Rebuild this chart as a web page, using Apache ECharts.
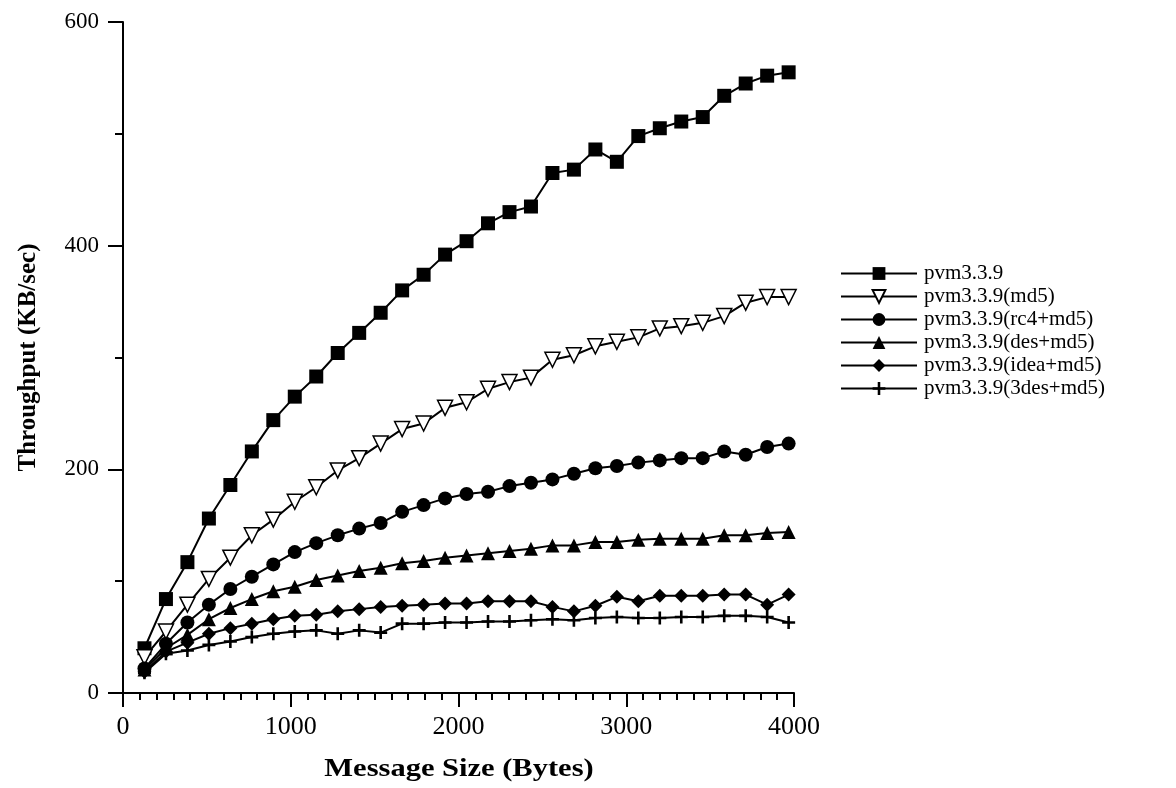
<!DOCTYPE html>
<html>
<head>
<meta charset="utf-8">
<script src="https://cdn.jsdelivr.net/npm/echarts@6/dist/echarts.min.js"></script>
<style>
  html, body { margin: 0; padding: 0; background: #fff; }
  #chart { width: 1176px; height: 788px; }
</style>
</head>
<body>
<div id="chart"></div>
<script>
// message sizes in bytes (128 .. 3968)
const messageSizes = [128, 256, 384, 512, 640, 768, 896, 1024, 1152, 1280, 1408, 1536, 1664, 1792, 1920,
  2048, 2176, 2304, 2432, 2560, 2688, 2816, 2944, 3072, 3200, 3328, 3456, 3584, 3712, 3840, 3968]

// throughput (KB/sec)
const pvm = [40, 84, 117, 156, 186, 216, 244, 265, 283, 304, 322, 340, 360, 374, 392,
  404, 420, 430, 435, 465, 468, 486, 475, 498, 505, 511, 515, 534, 545, 552, 555]
const pvmMd5 = [32, 55, 79, 102, 121, 141, 155, 171, 184, 199, 210, 223, 236, 241, 255,
  260, 272, 278, 282, 298, 302, 310, 314, 318, 326, 328, 331, 337, 349, 354, 354]
const pvmRc4 = [22, 44, 63, 79, 93, 104, 115, 126, 134, 141, 147, 152, 162, 168, 174,
  178, 180, 185, 188, 191, 196, 201, 203, 206, 208, 210, 210, 216, 213, 220, 223]
const pvmDes = [21, 40, 52, 66, 76, 84, 91, 95, 101, 105, 109, 112, 116, 118, 121,
  123, 125, 127, 129, 132, 132, 135, 135, 137, 138, 138, 138, 141, 141, 143, 144]
const pvmIdea = [19, 37, 45, 53, 58, 62, 66, 69, 70, 73, 75, 77, 78, 79, 80,
  80, 82, 82, 82, 77, 73, 78, 86, 82, 87, 87, 87, 88, 88, 79, 88]
const pvm3des = [18, 35, 38, 43, 46, 50, 53, 55, 56, 53, 56, 54, 62, 62, 63,
  63, 64, 64, 65, 66, 65, 67, 68, 67, 67, 68, 68, 69, 69, 68, 63]

const seriesNames = ['pvm3.3.9', 'pvm3.3.9(md5)', 'pvm3.3.9(rc4+md5)', 'pvm3.3.9(des+md5)',
  'pvm3.3.9(idea+md5)', 'pvm3.3.9(3des+md5)']

const FONT = '"Liberation Serif", "Times New Roman", serif'
const plusPath = 'path://M4,0h2v4h4v2h-4v4h-2v-4h-4v-2h4z'

function pairs(values) {
  return values.map((v, i) => [messageSizes[i], v])
}

function lineSeries(name, values, symbol, size, extra) {
  return Object.assign({
    name: name,
    type: 'line',
    data: pairs(values),
    symbol: symbol,
    symbolSize: size,
    showAllSymbol: true,
    lineStyle: { color: '#000', width: 2 },
    itemStyle: { color: '#000', borderColor: '#000', borderWidth: 0 },
    emphasis: { disabled: true },
    animation: false
  }, extra || {})
}

const chart = echarts.init(document.getElementById('chart'))

chart.setOption({
  backgroundColor: '#fff',
  animation: false,
  grid: { left: 123, right: 382, top: 22, bottom: 95, containLabel: false },
  legend: {
    orient: 'vertical',
    left: 835,
    top: 258,
    itemWidth: 76,
    itemHeight: 16,
    itemGap: 2,
    textStyle: { fontFamily: FONT, fontSize: 21, color: '#000', padding: [0, 0, 0, 2] },
    data: seriesNames
  },
  // x axis title drawn a bit wider, as in the original figure
  graphic: [{
    type: 'text',
    x: 459,
    y: 770,
    scaleX: 1.22,
    style: {
      text: 'Message Size (Bytes)',
      fontFamily: FONT,
      fontSize: 25,
      fontWeight: 'bold',
      fill: '#000',
      align: 'center',
      verticalAlign: 'middle'
    }
  }],
  xAxis: {
    type: 'value',
    min: 0,
    max: 4000,
    interval: 1000,
    axisLine: { onZero: false, lineStyle: { color: '#000', width: 2 } },
    axisTick: { length: 14, lineStyle: { color: '#000', width: 2 } },
    minorTick: { show: true, splitNumber: 10, length: 7, lineStyle: { color: '#000', width: 2 } },
    axisLabel: { fontFamily: FONT, fontSize: 26, color: '#000', margin: 21, formatter: v => String(v) },
    splitLine: { show: false }
  },
  yAxis: {
    type: 'value',
    min: 0,
    max: 600,
    interval: 200,
    name: 'Throughput (KB/sec)',
    nameLocation: 'middle',
    nameGap: 82,
    nameTextStyle: { fontFamily: FONT, fontSize: 25, fontWeight: 'bold', color: '#000' },
    axisLine: { show: true, lineStyle: { color: '#000', width: 2 } },
    axisTick: { show: true, length: 15, lineStyle: { color: '#000', width: 2 } },
    minorTick: { show: true, splitNumber: 2, length: 8, lineStyle: { color: '#000', width: 2 } },
    axisLabel: { fontFamily: FONT, fontSize: 23, color: '#000', margin: 24 },
    splitLine: { show: false }
  },
  series: [
    lineSeries(seriesNames[0], pvm, 'rect', 14),
    lineSeries(seriesNames[1], pvmMd5, 'triangle', 15, {
      symbolRotate: 180,
      itemStyle: { color: '#fff', borderColor: '#000', borderWidth: 1.5 }
    }),
    lineSeries(seriesNames[2], pvmRc4, 'circle', 14),
    lineSeries(seriesNames[3], pvmDes, 'triangle', 14),
    lineSeries(seriesNames[4], pvmIdea, 'diamond', 14),
    lineSeries(seriesNames[5], pvm3des, plusPath, 13)
  ]
})
</script>
</body>
</html>
